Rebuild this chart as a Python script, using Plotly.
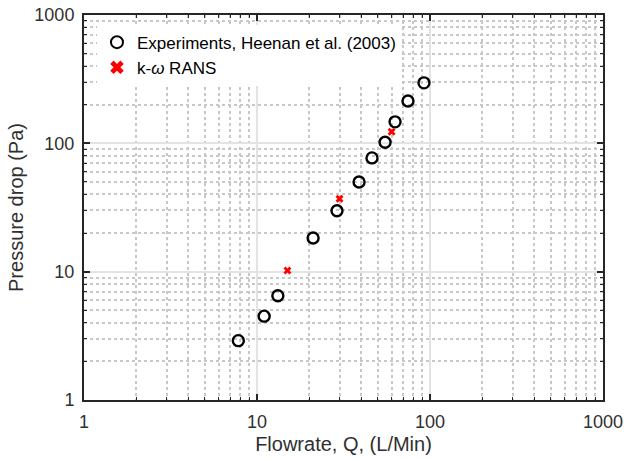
import plotly.graph_objects as go

# Experimental data (Heenan et al. 2003)
exp_q = [7.8, 11.0, 13.2, 21.1, 29.0, 38.9, 46.2, 55.0, 62.8, 74.6, 92.3]
exp_dp = [2.9, 4.5, 6.5, 18.3, 29.8, 50.0, 77.0, 102.0, 147.0, 214.0, 296.0]

# k-omega RANS results
rans_q = [15.0, 30.0, 60.0]
rans_dp = [10.2, 37.0, 123.0]

tick_vals = [1, 10, 100, 1000]
tick_text = ["1", "10", "100", "1000"]

axis_color = "#262626"
text_color = "#303030"
font_family = "Liberation Sans, Arial, sans-serif"

fig = go.Figure()
fig.add_trace(go.Scatter(
    x=exp_q, y=exp_dp, mode="markers",
    name="Experiments, Heenan et al. (2003)",
    marker=dict(symbol="circle-open", size=11, color="black",
                line=dict(width=2.4, color="black")),
))
fig.add_trace(go.Scatter(
    x=rans_q, y=rans_dp, mode="markers",
    name="k-<i>ω</i> RANS",
    marker=dict(symbol="x", size=7, color="#ff0000",
                line=dict(width=0)),
))

common = dict(
    type="log",
    range=[0, 3],
    tickvals=tick_vals,
    ticktext=tick_text,
    automargin=False,
    showline=True, linecolor=axis_color, linewidth=2,
    mirror="allticks",
    ticks="inside", ticklen=6, tickwidth=1.5, tickcolor=axis_color,
    showgrid=True, gridcolor="#e3e3e3", gridwidth=1.5,
    zeroline=False,
    tickfont=dict(family=font_family, size=18, color=text_color),
    minor=dict(ticks="inside", ticklen=3, tickwidth=1, tickcolor=axis_color,
               showgrid=True, gridcolor="#c8c8c8", griddash="dot", gridwidth=1.5,
               dtick="D1"),
)

fig.update_xaxes(**common,
                 ticklabelstandoff=4,
                 title=dict(text="Flowrate, Q, (L/Min)", standoff=6,
                            font=dict(family=font_family, size=20, color=text_color)))
fig.update_yaxes(**common,
                 ticklabelstandoff=4,
                 title=dict(text="Pressure drop (Pa)", standoff=5,
                            font=dict(family=font_family, size=20, color=text_color)))

fig.update_layout(
    width=624, height=459,
    margin=dict(l=84, r=21, t=15, b=59),
    paper_bgcolor="white", plot_bgcolor="white",
    showlegend=True,
    legend=dict(x=0.025, y=0.975, xanchor="left", yanchor="top",
                bgcolor="white", borderwidth=0,
                font=dict(family=font_family, size=17, color="black"),
                itemsizing="constant", tracegroupgap=0),
)

fig.write_html("out.html")
